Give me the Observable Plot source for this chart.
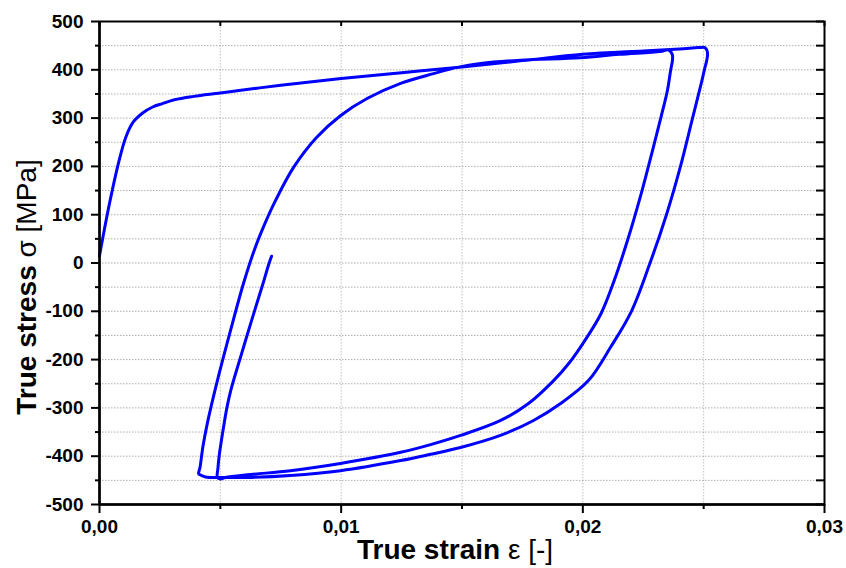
<!DOCTYPE html>
<html><head><meta charset="utf-8">
<script src="https://cdn.jsdelivr.net/npm/d3@7"></script>
<script src="https://cdn.jsdelivr.net/npm/@observablehq/plot@0.6"></script>
<style>body{margin:0;background:#fff}</style>
</head><body><div id="chart"></div>
<script>
// Branch A: initial tensile loading
const strainA = [0, 0.0004, 0.0008, 0.0011, 0.0014, 0.0018, 0.0022, 0.0026, 0.0031, 0.0039, 0.0050, 0.0075, 0.0100, 0.0125, 0.0150, 0.0175, 0.0200, 0.0225, 0.0240, 0.0248, 0.02505];
const stressA = [15, 120, 210, 262, 292, 311, 323, 330, 338, 345, 352, 368, 382, 394, 406, 419, 432, 439, 443, 446, 446];
// Branch B: first compressive reversal
const strainB = [0.02514, 0.02516, 0.02512, 0.02503, 0.02492, 0.02454, 0.02404, 0.02346, 0.02278, 0.02201, 0.02114, 0.02024, 0.01908, 0.01796, 0.01659, 0.01494, 0.01370, 0.01246, 0.00997, 0.00790, 0.00625, 0.00501, 0.00439, 0.00414];
const stressB = [440, 430, 418, 400, 376, 300, 200, 100, 0, -100, -175, -243, -291, -326, -357, -382, -396, -409, -430, -440, -444, -444, -443, -438];
// Branch C: second tensile reversal
const strainC = [0.00410, 0.00416, 0.00428, 0.00447, 0.00488, 0.00542, 0.00596, 0.00640, 0.00672, 0.00728, 0.00803, 0.00898, 0.00997, 0.01109, 0.01246, 0.01382, 0.01481, 0.01577, 0.01742, 0.01990, 0.02150, 0.02320, 0.02355, 0.02370];
const stressC = [-436, -423, -380, -330, -243, -140, -42, 26, 67, 129, 198, 260, 305, 341, 372, 392, 405, 413, 420, 425, 432, 438, 441, 432];
// Branch D: second compressive reversal
const strainD = [0.02371, 0.02363, 0.02350, 0.02325, 0.02292, 0.02245, 0.02185, 0.02130, 0.02075, 0.02000, 0.01945, 0.01880, 0.01775, 0.01660, 0.01494, 0.01370, 0.01246, 0.00997, 0.00790, 0.00625, 0.00521, 0.00500];
const stressD = [420, 398, 357, 305, 240, 150, 47, -36, -105, -167, -206, -243, -291, -326, -357, -376, -392, -415, -430, -438, -444, -447];
// Branch E: final tensile unloading
const strainE = [0.00488, 0.00490, 0.00495, 0.00511, 0.00527, 0.00543, 0.00583, 0.00633, 0.00677, 0.00702, 0.00712];
const stressE = [-444, -425, -400, -347, -300, -264, -196, -113, -42, 0, 14];

const xTicks = [0, 0.01, 0.02, 0.03];
const xTickLabels = ["0,00", "0,01", "0,02", "0,03"];
const xMinorTicks = [0.005, 0.015, 0.025];
const yTicks = [-500, -400, -300, -200, -100, 0, 100, 200, 300, 400, 500];
const yTickLabels = ["-500", "-400", "-300", "-200", "-100", "0", "100", "200", "300", "400", "500"];
const yMinorTicks = [-450, -350, -250, -150, -50, 50, 150, 250, 350, 450];

const curve = [];
[[strainA, stressA], [strainB, stressB], [strainC, stressC], [strainD, stressD], [strainE, stressE]].forEach(([xs, ys]) => {
  xs.forEach((x, i) => curve.push({strain: x, stress: ys[i]}));
});

const allX = [...xTicks, ...xMinorTicks].sort((a, b) => a - b);
const allY = [...yTicks, ...yMinorTicks].sort((a, b) => a - b);
const W = 846, H = 568, mL = 99, mR = 22, mT = 21, mB = 64;
const pw = W - mL - mR, ph = H - mT - mB;
const font = "'Liberation Sans', Arial, sans-serif";

const plot = Plot.plot({
  width: W, height: H,
  marginLeft: mL, marginRight: mR, marginTop: mT, marginBottom: mB,
  x: {domain: [0, 0.03]},
  y: {domain: [-500, 500]},
  style: {fontFamily: font, background: "#fff", color: "#000"},
  marks: [
    Plot.gridY(allY.filter(d => d > -500 && d < 500), {stroke: "#9a9a9a", strokeOpacity: 0.8, strokeDasharray: "1.5,1.5", strokeWidth: 1}),
    Plot.gridX(allX.filter(d => d > 0 && d < 0.03), {stroke: "#9a9a9a", strokeOpacity: 0.6, strokeDasharray: "1.5,1.5", strokeWidth: 1}),
    Plot.line(curve, {x: "strain", y: "stress", stroke: "#0000ff", strokeWidth: 3, curve: "catmull-rom", strokeLinejoin: "round"}),
    Plot.axisY(yTicks, {anchor: "left", tickSize: 8, tickPadding: 8, tickFormat: (d, i) => yTickLabels[i], fontSize: 19, fontWeight: "bold", strokeWidth: 2, label: null}),
    Plot.axisY(yMinorTicks, {anchor: "left", tickSize: 4, text: null, strokeWidth: 2, label: null}),
    Plot.axisX(xTicks, {anchor: "bottom", tickSize: 9, tickPadding: 6, tickFormat: (d, i) => xTickLabels[i], fontSize: 19, fontWeight: "bold", strokeWidth: 2, label: null}),
    Plot.axisX(xMinorTicks, {anchor: "bottom", tickSize: 5, text: null, strokeWidth: 2, label: null}),
    Plot.tickY(allY, {y: d => d, insetLeft: pw - 8, stroke: "#000", strokeWidth: 2}),
    Plot.tickX(allX, {x: d => d, insetBottom: ph - 5, stroke: "#000", strokeWidth: 2}),
    Plot.frame({stroke: "#000", strokeWidth: 2}),
    Plot.ruleX([0], {stroke: "#000", strokeWidth: 2.5}),
    Plot.ruleY([-500], {stroke: "#000", strokeWidth: 2.5})
  ]
});

const svg = d3.select(plot);
const xl = svg.append("text")
  .attr("x", 455).attr("y", 559)
  .attr("text-anchor", "middle")
  .attr("font-family", font).attr("font-size", 28).attr("fill", "#000");
xl.append("tspan").attr("font-weight", "bold").text("True strain ");
xl.append("tspan").attr("font-weight", "normal").text("ε [-]");

const yl = svg.append("text")
  .attr("transform", `translate(36,287) rotate(-90)`)
  .attr("text-anchor", "middle")
  .attr("font-family", font).attr("font-size", 28).attr("fill", "#000");
yl.append("tspan").attr("font-weight", "bold").text("True stress ");
yl.append("tspan").attr("font-weight", "normal").text("σ [MPa]");

document.getElementById("chart").appendChild(plot);
</script>
</body></html>
